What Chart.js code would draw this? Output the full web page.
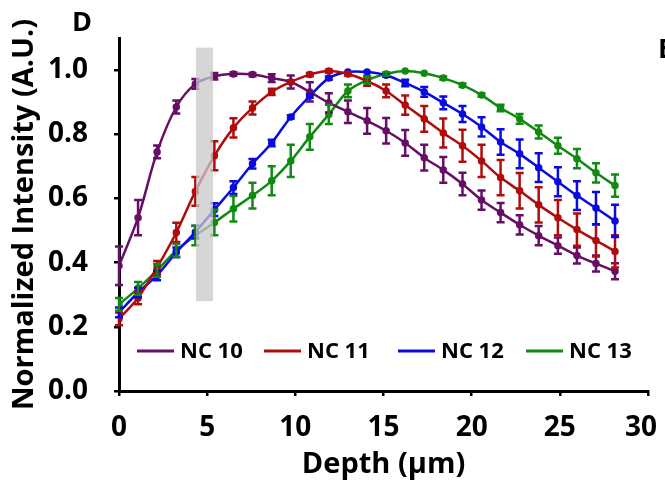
<!DOCTYPE html>
<html>
<head>
<meta charset="utf-8">
<script src="https://cdn.jsdelivr.net/npm/chart.js@4.4.1/dist/chart.umd.min.js"></script>
<style>
  html, body { margin: 0; padding: 0; background: #fff; }
  #wrap { width: 665px; height: 484px; }
</style>
</head>
<body>
<div id="wrap"><canvas id="depthChart" width="665" height="484"></canvas></div>
<script>
// depth positions (µm)
const depths = [0, 1.08, 2.16, 3.25, 4.33, 5.41, 6.49, 7.57, 8.66, 9.74, 10.82, 11.9, 12.98, 14.07,
  15.15, 16.23, 17.31, 18.39, 19.48, 20.56, 21.64, 22.72, 23.8, 24.89, 25.97, 27.05, 28.13];

const seriesNames = ['NC 10', 'NC 11', 'NC 12', 'NC 13'];

const nc10 = [0.39, 0.54, 0.745, 0.885, 0.957, 0.981, 0.988, 0.986, 0.975, 0.963, 0.932, 0.898, 0.870, 0.842,
  0.811, 0.773, 0.727, 0.689, 0.645, 0.595, 0.556, 0.518, 0.484, 0.453, 0.422, 0.397, 0.373];
const nc10Err = [0.06, 0.055, 0.02, 0.02, 0.015, 0.01, 0.005, 0.005, 0.012, 0.02, 0.03, 0.03, 0.035, 0.04,
  0.04, 0.04, 0.04, 0.04, 0.035, 0.03, 0.03, 0.03, 0.03, 0.025, 0.025, 0.025, 0.025];

const nc11 = [0.225, 0.29, 0.385, 0.494, 0.622, 0.733, 0.82, 0.882, 0.932, 0.963, 0.986, 0.997, 0.988, 0.966,
  0.935, 0.891, 0.848, 0.804, 0.764, 0.717, 0.665, 0.624, 0.58, 0.54, 0.503, 0.469, 0.435];
const nc11Err = [0.02, 0.02, 0.02, 0.03, 0.045, 0.045, 0.03, 0.02, 0.01, 0.005, 0.005, 0.005, 0.005, 0.015,
  0.02, 0.03, 0.04, 0.045, 0.05, 0.05, 0.055, 0.055, 0.055, 0.055, 0.05, 0.05, 0.05];

const nc12 = [0.245, 0.307, 0.36, 0.432, 0.495, 0.565, 0.634, 0.708, 0.773, 0.854, 0.919, 0.975, 0.994, 0.994,
  0.984, 0.96, 0.932, 0.898, 0.863, 0.823, 0.776, 0.739, 0.696, 0.652, 0.609, 0.57, 0.53];
const nc12Err = [0.015, 0.015, 0.015, 0.015, 0.02, 0.02, 0.02, 0.015, 0.01, 0.005, 0.005, 0.005, 0.003, 0.003,
  0.005, 0.01, 0.015, 0.02, 0.025, 0.03, 0.04, 0.045, 0.045, 0.045, 0.045, 0.05, 0.05];

const nc13 = [0.27, 0.32, 0.376, 0.438, 0.484, 0.525, 0.568, 0.609, 0.655, 0.717, 0.792, 0.862, 0.935, 0.969,
  0.988, 0.997, 0.99, 0.975, 0.953, 0.922, 0.882, 0.848, 0.807, 0.764, 0.724, 0.68, 0.64];
const nc13Err = [0.02, 0.02, 0.02, 0.02, 0.03, 0.04, 0.04, 0.04, 0.045, 0.05, 0.04, 0.03, 0.02, 0.01,
  0.005, 0.003, 0.003, 0.005, 0.005, 0.005, 0.01, 0.015, 0.02, 0.025, 0.03, 0.03, 0.035];

// shaded depth band
const bandX = [4.37, 5.33];
const bandY = [0.28, 1.07];

const xTicks = [0, 5, 10, 15, 20, 25, 30];
const yTicks = [0, 0.2, 0.4, 0.6, 0.8, 1.0];

const colors = ['#660f66', '#b00c0c', '#0a0ae0', '#118a11'];
const values = [nc10, nc11, nc12, nc13];
const errors = [nc10Err, nc11Err, nc12Err, nc13Err];

const FONT = '"Open Sans", Lato, sans-serif';

const errorBars = {
  id: 'errorBars',
  afterDatasetsDraw(chart) {
    const { ctx, scales: { x, y } } = chart;
    ctx.save();
    chart.data.datasets.forEach((ds, i) => {
      ctx.strokeStyle = ds.borderColor;
      ctx.lineWidth = 2.5;
      ds.data.forEach((p, j) => {
        const e = errors[i][j];
        const px = x.getPixelForValue(p.x);
        const top = y.getPixelForValue(p.y + e);
        const bot = y.getPixelForValue(p.y - e);
        if (bot - top < 2) return;
        ctx.beginPath();
        ctx.moveTo(px, top); ctx.lineTo(px, bot);
        ctx.moveTo(px - 4, top); ctx.lineTo(px + 4, top);
        ctx.moveTo(px - 4, bot); ctx.lineTo(px + 4, bot);
        ctx.stroke();
      });
    });
    // gray band over the curves
    const bx0 = x.getPixelForValue(bandX[0]), bx1 = x.getPixelForValue(bandX[1]);
    const by0 = y.getPixelForValue(bandY[1]), by1 = y.getPixelForValue(bandY[0]);
    ctx.fillStyle = 'rgba(200,200,200,0.75)';
    ctx.fillRect(bx0, by0, bx1 - bx0, by1 - by0);
    ctx.restore();
  }
};

const insideLegend = {
  id: 'insideLegend',
  afterDraw(chart) {
    const { ctx } = chart;
    const starts = [137, 264, 398, 526];
    const yMid = 351;
    ctx.save();
    ctx.font = 'bold 22px ' + FONT;
    ctx.textBaseline = 'middle';
    seriesNames.forEach((name, i) => {
      ctx.strokeStyle = colors[i];
      ctx.lineWidth = 3;
      ctx.beginPath();
      ctx.moveTo(starts[i], yMid); ctx.lineTo(starts[i] + 37, yMid);
      ctx.stroke();
      ctx.fillStyle = '#000';
      ctx.fillText(name, starts[i] + 43, yMid + 1);
    });
    // panel letters
    ctx.font = 'bold 27px ' + FONT;
    ctx.textAlign = 'center';
    ctx.fillText('D', 82, 23);
    ctx.textAlign = 'left';
    ctx.fillText('E', 658, 50);
    ctx.restore();
  }
};

// keep the plot box where the figure has it, not where label overflow would push it
const noEdgePad = (s) => { s.paddingLeft = 0; s.paddingRight = 0; s.paddingTop = 0; s.paddingBottom = 0; };

new Chart(document.getElementById('depthChart'), {
  type: 'line',
  data: {
    datasets: seriesNames.map((name, i) => ({
      label: name,
      data: depths.map((d, j) => ({ x: d, y: values[i][j] })),
      borderColor: colors[i],
      backgroundColor: colors[i],
      borderWidth: 2.5,
      pointRadius: 2.5,
      pointHoverRadius: 2.5,
      tension: 0.3,
    })),
  },
  options: {
    responsive: false,
    animation: false,
    devicePixelRatio: 1,
    layout: { padding: { top: 38, right: 17, left: 0, bottom: 0 } },
    plugins: { legend: { display: false }, tooltip: { enabled: false } },
    scales: {
      x: {
        type: 'linear',
        min: 0,
        max: 30,
        afterBuildTicks: (s) => { s.ticks = xTicks.map(v => ({ value: v })); },
        afterFit: (s) => { s.height = 93; noEdgePad(s); },
        ticks: {
          color: '#000', font: { family: FONT, size: 28, weight: 'bold' }, padding: 15, maxRotation: 0,
          // last label nudged inward so it stays on the canvas
          callback: (v) => (v === 30 ? '30\u2002' : String(v)),
        },
        grid: { drawOnChartArea: false, drawTicks: true, tickLength: 5, color: '#000', lineWidth: 2.5 },
        border: { color: '#000', width: 3 },
        title: { display: true, text: 'Depth (µm)', color: '#000', font: { family: FONT, size: 29, weight: 'bold' }, padding: { top: 0, bottom: 2 } },
      },
      y: {
        min: 0,
        max: 1.1,
        afterBuildTicks: (s) => { s.ticks = yTicks.map(v => ({ value: v })); },
        afterFit: (s) => { s.width = 119; noEdgePad(s); },
        ticks: { color: '#000', font: { family: FONT, size: 28, weight: 'bold' }, padding: 26, callback: (v) => v.toFixed(1) },
        grid: { drawOnChartArea: false, drawTicks: true, tickLength: 5, color: '#000', lineWidth: 2.5 },
        border: { color: '#000', width: 3 },
        title: { display: true, text: 'Normalized Intensity (A.U.)', color: '#000', font: { family: FONT, size: 29, weight: 'bold' }, padding: { top: 7, bottom: 0 } },
      },
    },
  },
  plugins: [errorBars, insideLegend],
});
</script>
</body>
</html>
